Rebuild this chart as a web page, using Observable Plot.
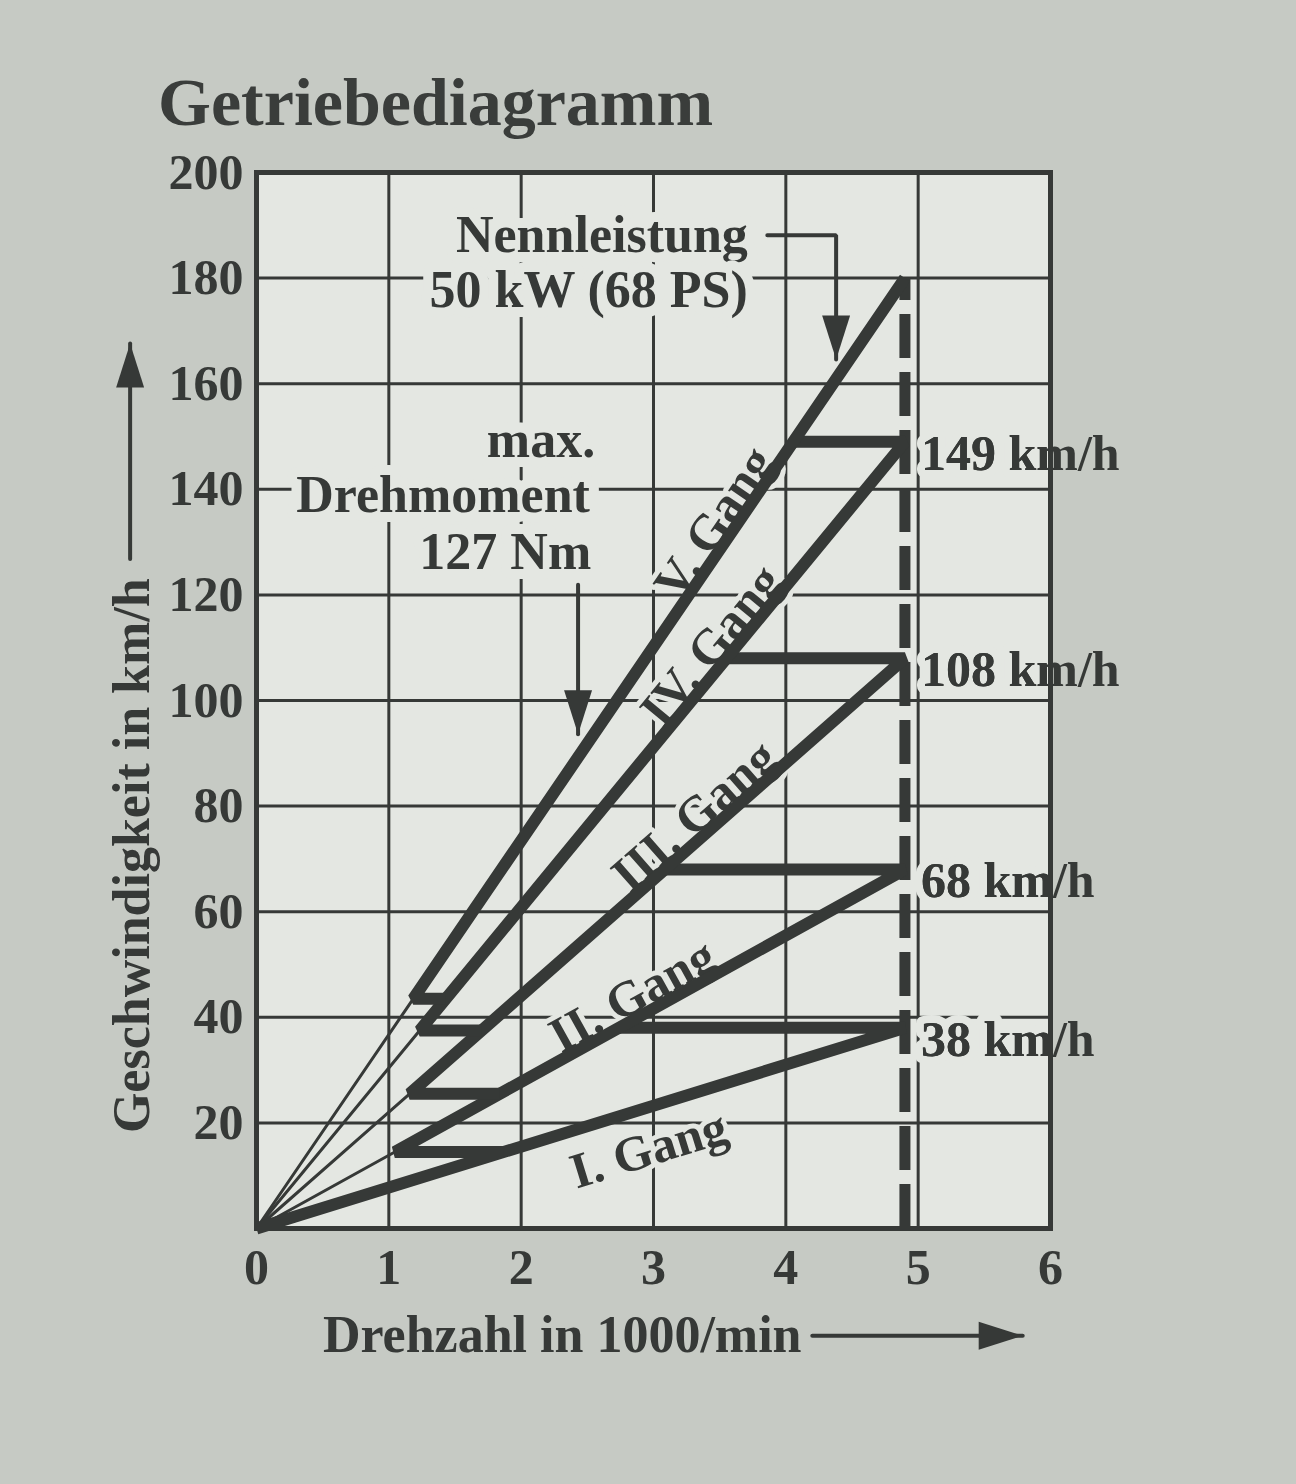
<!DOCTYPE html>
<html><head><meta charset="utf-8">
<script src="https://cdn.jsdelivr.net/npm/d3@7"></script>
<script src="https://cdn.jsdelivr.net/npm/@observablehq/plot@0.6"></script>
<style>
body{margin:0;background:#c6cac4;}
#wrap{position:relative;width:1296px;height:1484px;}
#title{position:absolute;left:158px;top:68px;font:bold 68px "Liberation Serif",serif;color:#3a3d3b;line-height:1;white-space:nowrap;}
#chart{position:absolute;left:0;top:0;}
</style></head><body>
<div id="wrap"><div id="chart"></div><div id="title">Getriebediagramm</div></div>
<script>
// ---- data ----
const gears = ["I. Gang", "II. Gang", "III. Gang", "IV. Gang", "V. Gang"];
const vmax = [38, 68, 108, 149, 180];          // km/h at rated speed
const ratedRpm = 4.9;                            // 1000/min (Nennleistung)
const vLow = [null, 14.5, 25.5, 37.5, 43.5];     // km/h where thick part starts (low shift)
const labelRpm = [2.92, 2.90, 3.39, 3.53, 3.56]; // where gear names sit along their lines
const speedLabels = ["38 km/h", "68 km/h", "108 km/h", "149 km/h"];
const xTicks = [0, 1, 2, 3, 4, 5, 6];
const yTicks = [20, 40, 60, 80, 100, 120, 140, 160, 180, 200];
const noteText = ["Nennleistung", "50 kW (68 PS)", "max.", "Drehmoment", "127 Nm"];
const noteX = [2.61, 2.51, 2.15, 1.41, 1.88];
const noteY = [188.1, 177.7, 149.2, 138.8, 128.0];
const nennLeader = [[3.86, 188.1], [4.38, 188.1], [4.38, 164.6]]; // last = arrow tip
const torqueArrow = [[2.43, 121.9], [2.43, 93.6]];
const yAxisTitle = {text: "Geschwindigkeit in km/h", x: -0.937, y: 70.6};
const xAxisTitle = {text: "Drehzahl in 1000/min", x: 2.31, y: -20.3};
const yAxisArrow = [[-0.955, 126.8], [-0.955, 167.6]];
const xAxisArrow = [[4.20, -20.3], [5.79, -20.3]];

// ---- layout ----
const ink = "#363937", paper = "#e4e7e2";
const W = 1296, H = 1484, mL = 256, mR = 246, mT = 172, mB = 256;
const pxX = (W - mL - mR) / 6, pxY = (H - mT - mB) / 200;
const ratio = vmax.map(v => v / ratedRpm);

const thick = [];
gears.forEach((g, i) => {
  const pts = [];
  if (i === 0) pts.push([0, 0]);
  else { pts.push([vLow[i] / ratio[i - 1], vLow[i]]); pts.push([vLow[i] / ratio[i], vLow[i]]); }
  pts.push([ratedRpm, vmax[i]]);
  if (i < gears.length - 1) pts.push([vmax[i] / ratio[i + 1], vmax[i]]);
  pts.forEach(([x, y]) => thick.push({gear: g, x, y}));
});
const thin = [];
gears.forEach((g, i) => { if (i > 0) { thin.push({gear: g, x: 0, y: 0}); thin.push({gear: g, x: vLow[i] / ratio[i], y: vLow[i]}); } });
const angle = ratio.map(r => -Math.atan(r * pxY / pxX) * 180 / Math.PI);
const gearLabels = gears.map((g, i) => ({text: g, x: labelRpm[i], y: ratio[i] * labelRpm[i], rotate: angle[i], below: i === 0}));
const speedData = speedLabels.map((t, i) => ({text: t, x: ratedRpm, y: vmax[i]}));
const notes = noteText.map((t, i) => ({text: t, x: noteX[i], y: noteY[i]}));

const lines = [];
const addLine = (name, pts) => pts.forEach(([x, y]) => lines.push({name, x, y}));
addLine("nenn", nennLeader);
addLine("torque", torqueArrow);
addLine("yax", yAxisArrow);
addLine("xax", xAxisArrow);

function tri(dir) {
  return {draw(ctx, size) {
    const k = Math.sqrt(size / Math.PI) / 16;
    const pts = [[-14, -22], [14, -22], [0, 22]];
    const t = ([a, b]) => dir === "down" ? [a, b] : dir === "up" ? [a, -b] : [b, a];
    pts.map(p => t(p)).forEach(([a, b], j) => j ? ctx.lineTo(a * k, b * k) : ctx.moveTo(a * k, b * k));
    ctx.closePath();
  }};
}
const nTip = nennLeader[nennLeader.length - 1];
const headsDown = [{x: nTip[0], y: nTip[1] + 22 / pxY}, {x: torqueArrow[1][0], y: torqueArrow[1][1] + 22 / pxY}];
const headsUp = [{x: yAxisArrow[1][0], y: yAxisArrow[1][1] - 22 / pxY}];
const headsRight = [{x: xAxisArrow[1][0] - 22 / pxX, y: xAxisArrow[1][1]}];

const font = "'Liberation Serif', 'Times New Roman', serif";
const chart = Plot.plot({
  width: W, height: H, marginLeft: mL, marginRight: mR, marginTop: mT, marginBottom: mB,
  x: {domain: [0, 6]}, y: {domain: [0, 200]},
  style: {background: "transparent", fontFamily: font, fontWeight: "bold", fontSize: "50px", color: ink, overflow: "visible"},
  marks: [
    Plot.frame({fill: paper, stroke: null}),
    Plot.gridX(xTicks.slice(1, -1), {stroke: ink, strokeOpacity: 1, strokeWidth: 3}),
    Plot.gridY(yTicks.slice(0, -1), {stroke: ink, strokeOpacity: 1, strokeWidth: 3}),
    Plot.text(notes, {x: "x", y: "y", text: "text", fill: ink, stroke: paper, strokeWidth: 20, fontSize: 52, fontWeight: "bold"}),
    Plot.text(gearLabels.filter(d => !d.below), {x: "x", y: "y", text: "text", rotate: "rotate", lineAnchor: "bottom", dy: -6, fill: ink, stroke: paper, strokeWidth: 10, fontSize: 50, fontWeight: "bold"}),
    Plot.text(gearLabels.filter(d => d.below), {x: "x", y: "y", text: "text", rotate: "rotate", lineAnchor: "top", dy: 22, fill: ink, stroke: paper, strokeWidth: 10, fontSize: 50, fontWeight: "bold"}),
    Plot.text(speedData, {x: "x", y: "y", text: "text", textAnchor: "start", dx: 16, dy: 12, fill: ink, stroke: paper, strokeWidth: 16, fontSize: 50, fontWeight: "bold", clip: "frame"}),
    Plot.text(speedData, {x: "x", y: "y", text: "text", textAnchor: "start", dx: 16, dy: 12, fill: ink, fontSize: 50, fontWeight: "bold"}),
    Plot.ruleX([ratedRpm], {y1: 0, y2: vmax[vmax.length - 1], stroke: ink, strokeWidth: 11, strokeDasharray: "44,14"}),
    Plot.line(thin, {x: "x", y: "y", z: "gear", stroke: ink, strokeWidth: 3}),
    Plot.line(thick, {x: "x", y: "y", z: "gear", stroke: ink, strokeWidth: 12, strokeLinejoin: "miter", strokeLinecap: "butt"}),
    Plot.frame({stroke: ink, strokeWidth: 5}),
    Plot.axisY({ticks: yTicks, tickSize: 0, tickPadding: 13, label: null, fontSize: 50, fontWeight: "bold", fill: ink}),
    Plot.axisX({ticks: xTicks, tickSize: 0, tickPadding: 20, tickFormat: d => String(d), label: null, fontSize: 50, fontWeight: "bold", fill: ink}),
    Plot.line(lines, {x: "x", y: "y", z: "name", stroke: ink, strokeWidth: 4, strokeLinejoin: "miter"}),
    Plot.dot(headsDown, {x: "x", y: "y", r: 16, symbol: tri("down"), fill: ink, stroke: null}),
    Plot.dot(headsUp, {x: "x", y: "y", r: 16, symbol: tri("up"), fill: ink, stroke: null}),
    Plot.dot(headsRight, {x: "x", y: "y", r: 16, symbol: tri("right"), fill: ink, stroke: null}),
    Plot.text([yAxisTitle], {x: "x", y: "y", text: "text", rotate: -90, fill: ink, fontSize: 52, fontWeight: "bold"}),
    Plot.text([xAxisTitle], {x: "x", y: "y", text: "text", fill: ink, fontSize: 52, fontWeight: "bold"})
  ]
});
document.getElementById("chart").appendChild(chart);
</script>
</body></html>
